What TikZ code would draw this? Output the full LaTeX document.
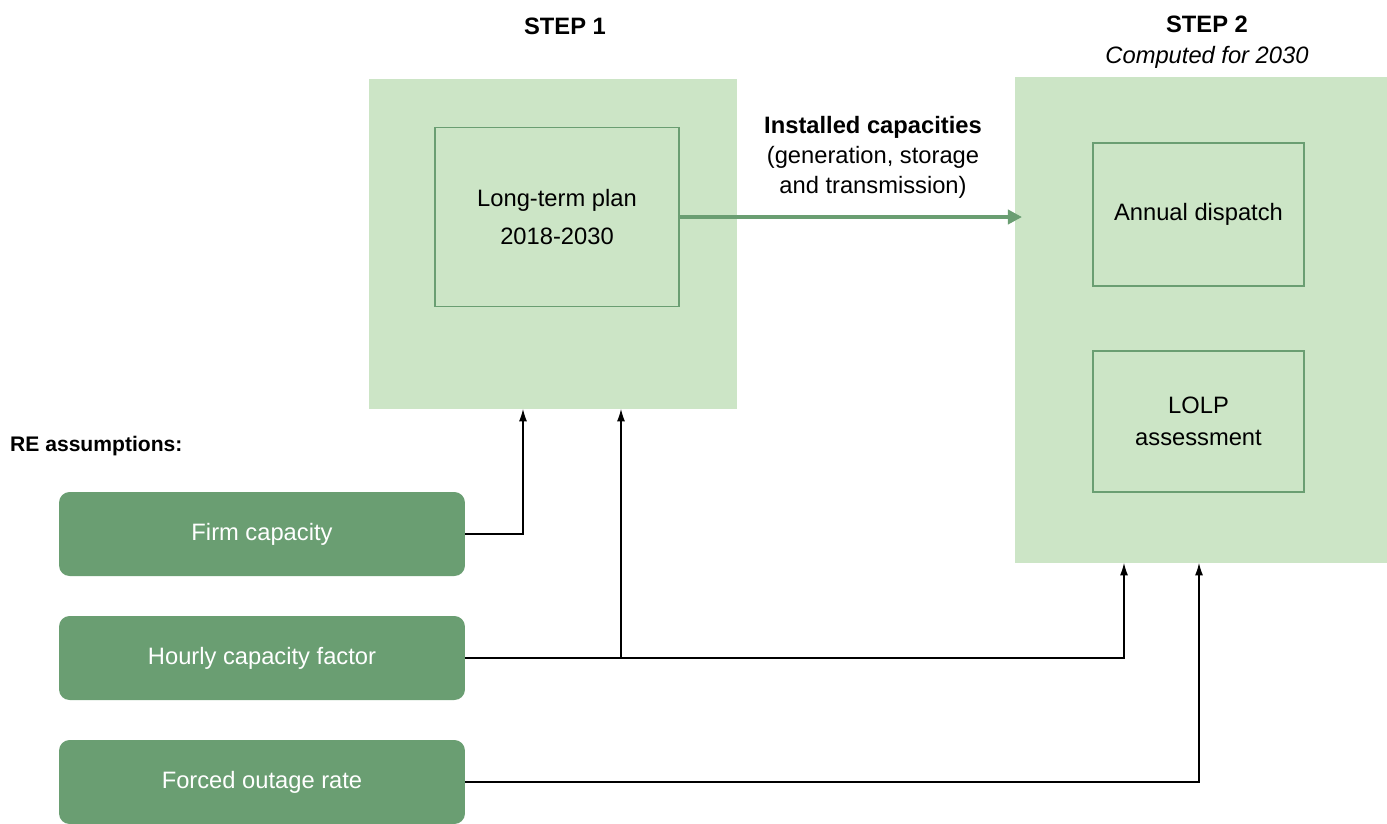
\documentclass[tikz,border=0pt]{standalone}
\usepackage{fontspec}
\setmainfont{Liberation Sans}
\usetikzlibrary{arrows.meta}

\definecolor{lightgreen}{HTML}{CCE5C6}
\definecolor{darkgreen}{HTML}{6A9E72}

\tikzset{
  bigbox/.style={draw=none, fill=lightgreen},
  innerbox/.style={draw=darkgreen, line width=1.1pt, fill=lightgreen, align=center},
  assumption/.style={fill=darkgreen, rounded corners=6pt, text=white, minimum width=8.12cm, minimum height=1.68cm},
  feed/.style={line width=0.6pt, -{Latex[length=7pt,width=4.5pt]}}
}

\begin{document}
\begin{tikzpicture}[x=0.02cm, y=-0.02cm, every node/.style={font=\fontsize{13.5}{17}\selectfont}]
            \useasboundingbox (0,0) rectangle (1387,823);

            % Step 1 and step 2 blocks
            \node[bigbox, minimum width=7.36cm, minimum height=6.6cm] (step1) at (553,244) {};
            \node[bigbox, minimum width=7.44cm, minimum height=9.72cm] (step2) at (1201,320) {};
            \node[font=\fontsize{13.5}{17}\selectfont\bfseries] (t1) at (565,26) {STEP 1};
            \node[font=\fontsize{13.5}{17}\selectfont\bfseries] (t2) at (1207,24) {STEP 2};
            \node[font=\fontsize{13.5}{17}\selectfont\itshape] (t2b) at (1207,57) {Computed for 2030};

            % Models inside the blocks
            \node[innerbox, minimum width=4.88cm, minimum height=3.58cm, font=\fontsize{13.5}{21.5}\selectfont] (plan) at (557,217) {Long-term plan\\2018-2030};
            \node[innerbox, minimum width=4.22cm, minimum height=2.86cm] (dispatch) at (1198.5,214.5) {Annual dispatch};
            \node[innerbox, minimum width=4.22cm, minimum height=2.82cm, font=\fontsize{13.5}{18.5}\selectfont] (lolp) at (1198.5,421.5) {LOLP\\assessment};

            % Link between the steps
            \coordinate (s2in) at (1022,217);
            \draw[darkgreen, line width=2.3pt, -{Triangle[length=8pt,width=8pt]}] (plan.east) -- (s2in);
            \node[align=center] (link) at (873,157) {\textbf{Installed capacities}\\(generation, storage\\and transmission)};

            % RE assumptions
            \node[font=\fontsize{12}{15}\selectfont\bfseries, anchor=west] (re) at (4,446) {RE assumptions:};
            \node[assumption] (firm) at (262,534) {Firm capacity};
            \node[assumption] (hourly) at (262,658) {Hourly capacity factor};
            \node[assumption] (forced) at (262,782) {Forced outage rate};

            % Inputs to the models
            \coordinate (a1) at (523,409);
            \coordinate (a2) at (621,409);
            \coordinate (a3) at (1124,563);
            \coordinate (a4) at (1199,563);
            \draw[feed] (firm.east) -| (a1);
            \draw[feed] (hourly.east) -| (a2);
            \draw[feed] (hourly.east) -| (a3);
            \draw[feed] (forced.east) -| (a4);
\end{tikzpicture}
\end{document}
